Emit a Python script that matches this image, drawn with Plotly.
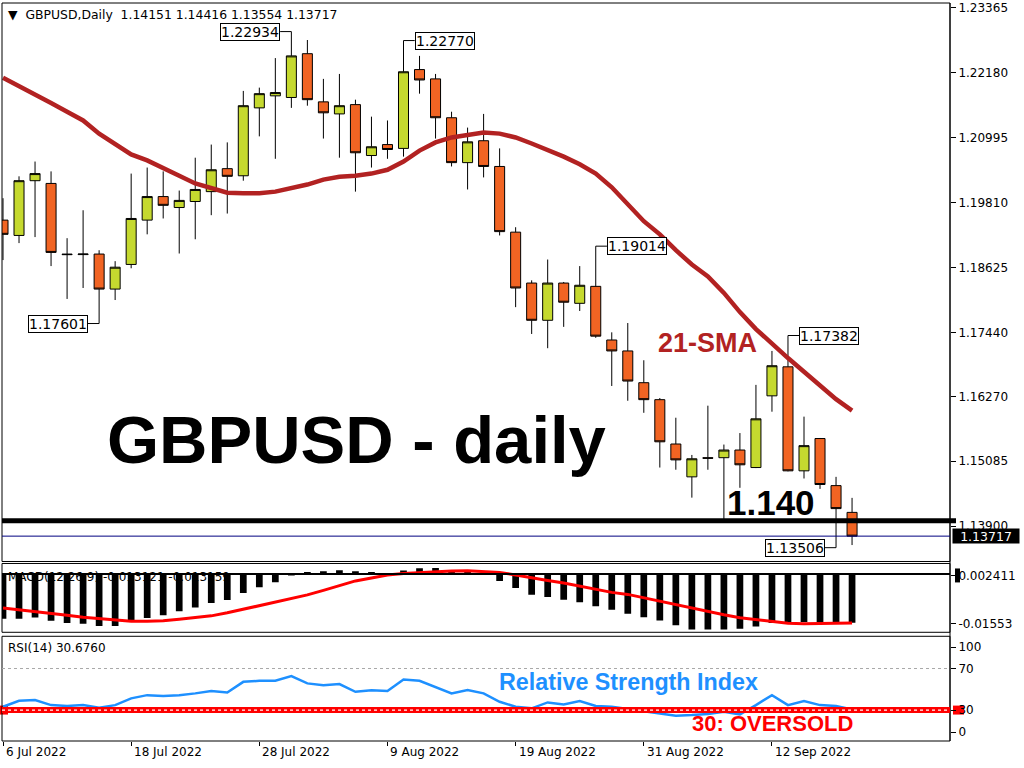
import plotly.graph_objects as go

# ---------------- data ----------------
dates = ["2022-07-06", "2022-07-07", "2022-07-08", "2022-07-11", "2022-07-12", "2022-07-13",
         "2022-07-14", "2022-07-15", "2022-07-18", "2022-07-19", "2022-07-20", "2022-07-21",
         "2022-07-22", "2022-07-25", "2022-07-26", "2022-07-27", "2022-07-28", "2022-07-29",
         "2022-08-01", "2022-08-02", "2022-08-03", "2022-08-04", "2022-08-05", "2022-08-08",
         "2022-08-09", "2022-08-10", "2022-08-11", "2022-08-12", "2022-08-15", "2022-08-16",
         "2022-08-17", "2022-08-18", "2022-08-19", "2022-08-22", "2022-08-23", "2022-08-24",
         "2022-08-25", "2022-08-26", "2022-08-29", "2022-08-30", "2022-08-31", "2022-09-01",
         "2022-09-02", "2022-09-05", "2022-09-06", "2022-09-07", "2022-09-08", "2022-09-09",
         "2022-09-12", "2022-09-13", "2022-09-14", "2022-09-15", "2022-09-16", "2022-09-19"]

opens = [1.1949, 1.1921, 1.2021, 1.2016, 1.1887, 1.1886, 1.1887, 1.1823, 1.1868, 1.1949,
         1.1992, 1.1972, 1.1983, 1.2001, 1.2043, 1.2030, 1.2154, 1.2176, 1.2173, 1.2253,
         1.2165, 1.2143, 1.2160, 1.2067, 1.2087, 1.2080, 1.2224, 1.2207, 1.2136, 1.2054,
         1.2094, 1.2047, 1.1927, 1.1834, 1.1766, 1.1834, 1.1797, 1.1828, 1.1730, 1.1710,
         1.1652, 1.1621, 1.1540, 1.1480, 1.1515, 1.1515, 1.1529, 1.1497, 1.1628, 1.1681,
         1.1491, 1.1550, 1.1464, 1.14151]
highs = [1.1989, 1.2029, 1.2056, 1.2038, 1.1916, 1.1967, 1.1894, 1.1874, 1.2034, 1.2045,
         1.2038, 1.2003, 1.2063, 1.2087, 1.2091, 1.2185, 1.2191, 1.2245, 1.22934, 1.2278,
         1.2207, 1.2216, 1.2169, 1.2138, 1.2131, 1.22770, 1.2249, 1.2216, 1.2147, 1.2118,
         1.2143, 1.2080, 1.1936, 1.1839, 1.1877, 1.1836, 1.1865, 1.19014, 1.1744, 1.1761,
         1.1693, 1.1624, 1.1588, 1.1520, 1.1610, 1.1539, 1.1560, 1.1648, 1.1710, 1.17382,
         1.1590, 1.1551, 1.1480, 1.14416]
lows = [1.1876, 1.1907, 1.1918, 1.1865, 1.1805, 1.1825, 1.17601, 1.1803, 1.1861, 1.1923,
        1.1952, 1.1888, 1.1914, 1.1958, 1.1961, 1.2021, 1.2102, 1.2061, 1.2154, 1.2158,
        1.2098, 1.2063, 1.2001, 1.2045, 1.2061, 1.2065, 1.2180, 1.2098, 1.2047, 1.2005,
        1.2027, 1.1921, 1.1790, 1.1741, 1.1715, 1.1754, 1.1783, 1.1734, 1.1646, 1.1619,
        1.1597, 1.1497, 1.1493, 1.1442, 1.1493, 1.1401, 1.1460, 1.1496, 1.1599, 1.1490,
        1.1477, 1.1458, 1.13506, 1.13554]
closes = [1.1923, 1.2021, 1.2034, 1.1890, 1.1886, 1.1887, 1.1823, 1.1863, 1.1952, 1.1992,
          1.1976, 1.1985, 1.2005, 1.2041, 1.2029, 1.2158, 1.2180, 1.2182, 1.2249, 1.2169,
          1.2145, 1.2158, 1.2072, 1.2083, 1.2078, 1.2220, 1.2205, 1.2136, 1.2054, 1.2092,
          1.2047, 1.1928, 1.1825, 1.1766, 1.1834, 1.1799, 1.1830, 1.1737, 1.1710, 1.1655,
          1.1621, 1.1544, 1.1511, 1.1513, 1.1514, 1.1529, 1.1502, 1.1586, 1.1683, 1.1491,
          1.1537, 1.1466, 1.1422, 1.13717]
sma21 = [1.2209, 1.2194, 1.2180, 1.2163, 1.2147, 1.2131, 1.2107, 1.2087, 1.2069, 1.2058,
         1.2045, 1.2030, 1.2016, 1.2007, 1.1999, 1.1998, 1.1998, 1.2001, 1.2007, 1.2014,
         1.2023, 1.2028, 1.2030, 1.2034, 1.2041, 1.2056, 1.2076, 1.2091, 1.2100, 1.2105,
         1.2109, 1.2107, 1.2100, 1.2089, 1.2078, 1.2065, 1.2051, 1.2034, 1.2009, 1.1978,
         1.1947, 1.1923, 1.1894, 1.1868, 1.1846, 1.1816, 1.1781, 1.1750, 1.1723, 1.1697,
         1.1672, 1.1646, 1.1622, 1.1601]
macd = [-0.0120, -0.0120, -0.0117, -0.0126, -0.0132, -0.0134, -0.0140, -0.0140, -0.0125, -0.0118,
        -0.0111, -0.0100, -0.0090, -0.0078, -0.0070, -0.0051, -0.0036, -0.0022, -0.0002, 0.0005,
        0.0007, 0.0010, 0.0007, 0.0005, 0.0001, 0.0009, 0.0015, 0.0016, 0.0010, 0.0006,
        0.0002, -0.0019, -0.0038, -0.0056, -0.0062, -0.0069, -0.0076, -0.0087, -0.0096, -0.0107,
        -0.0116, -0.0125, -0.0138, -0.0149, -0.0149, -0.0149, -0.0147, -0.0141, -0.0132, -0.0129,
        -0.0129, -0.0129, -0.0129, -0.013121]
signal = [-0.00916, -0.00964, -0.01004, -0.01044, -0.01111, -0.01165, -0.01200, -0.01245, -0.01272, -0.01272,
          -0.01259, -0.01219, -0.01178, -0.01125, -0.01044, -0.00951, -0.00844, -0.00750, -0.00656, -0.00562,
          -0.00442, -0.00308, -0.00187, -0.00107, -0.00027, 0.00013, 0.00040, 0.00067, 0.00080, 0.00086,
          0.00067, 0.00040, -0.00027, -0.00107, -0.00174, -0.00241, -0.00321, -0.00415, -0.00495, -0.00549,
          -0.00643, -0.00736, -0.00830, -0.00911, -0.01004, -0.01098, -0.01178, -0.01232, -0.01285, -0.01326,
          -0.01334, -0.01334, -0.01326, -0.013159]
rsi = [33.2, 39.0, 39.6, 34.8, 33.9, 34.8, 32.2, 34.8, 41.3, 44.4,
       43.5, 44.4, 46.1, 48.3, 47.0, 57.2, 58.2, 58.2, 62.7, 55.7,
       54.0, 55.0, 47.6, 49.2, 48.3, 59.5, 58.2, 52.4, 46.1, 49.2,
       46.1, 38.0, 33.2, 31.7, 37.4, 35.5, 38.7, 33.9, 33.2, 31.0,
       29.1, 26.9, 24.6, 25.2, 26.2, 28.4, 25.9, 34.8, 44.4, 34.8,
       38.7, 34.8, 33.9, 30.676]

price_ticks = [1.23365, 1.22180, 1.20995, 1.19810, 1.18625, 1.17440, 1.16270, 1.15085, 1.13900]
date_tick_idx = [0, 8, 16, 24, 32, 40, 48]
date_tick_text = ["6 Jul 2022", "18 Jul 2022", "28 Jul 2022", "9 Aug 2022",
                  "19 Aug 2022", "31 Aug 2022", "12 Sep 2022"]
macd_labels = ["0.002411", "-0.01553"]
rsi_labels = ["100", "70", "30", "0"]
support_level = 1.140
marked_idx = [18, 6, 25, 37, 49, 52]           # candles with price callouts
marked_kind = ["high", "low", "high", "high", "high", "low"]
marked_side = ["left", "left", "right", "right", "right", "left"]

# ---------------- styling helpers ----------------
W, H = 1024, 768
ML, MR, MT, MB = 2, 74, 1, 27
PW, PH = W - ML - MR, H - MT - MB


def px(x):
    return (x - ML) / PW


def py(y):
    return (H - MB - y) / PH


GREEN = "#C5D92F"
ORANGE = "#F16423"
SMA_C = "#B22222"
RSI_C = "#1E90FF"
AX_FONT = dict(family="DejaVu Sans", size=12, color="black")

xs = list(range(len(dates)))

fig = go.Figure()
fig.add_trace(go.Candlestick(
    x=xs, open=opens, high=highs, low=lows, close=closes,
    increasing=dict(fillcolor=GREEN, line=dict(color="black", width=1)),
    decreasing=dict(fillcolor=ORANGE, line=dict(color="black", width=1)),
    whiskerwidth=0, showlegend=False, hoverinfo="skip", xaxis="x", yaxis="y"))
fig.add_trace(go.Scatter(x=xs, y=sma21, mode="lines", line=dict(color=SMA_C, width=4.5),
                         showlegend=False, hoverinfo="skip", xaxis="x", yaxis="y"))
fig.add_trace(go.Bar(x=xs, y=macd, marker=dict(color="black", line=dict(width=0)), width=0.42,
                     showlegend=False, hoverinfo="skip", xaxis="x", yaxis="y2"))
fig.add_trace(go.Scatter(x=xs, y=signal, mode="lines", line=dict(color="#FF0000", width=3),
                         showlegend=False, hoverinfo="skip", xaxis="x", yaxis="y2"))
fig.add_trace(go.Scatter(x=xs, y=rsi, mode="lines", line=dict(color=RSI_C, width=2.5),
                         showlegend=False, hoverinfo="skip", xaxis="x", yaxis="y3"))

# axis geometry (pixel rows of the three MT4 panels)
price_top, price_bot = 1, 561
macd_top, macd_bot = 563, 632
rsi_top, rsi_bot = 636, 741

# price scale: 1.23365 at y=6, 5489 px per unit
p_hi = 1.23365 + (6 - price_top) / 5489
p_lo = 1.23365 - (price_bot - 6) / 5489
# macd scale: zero at y=573.5, 3734 px per unit
m_hi = (573.5 - macd_top) / 3734
m_lo = (573.5 - macd_bot) / 3734
m_tickvals = [(573.5 - 575) / 3734, (573.5 - 623) / 3734]
# rsi scale: 0 at 741.3, 1.0425 px per unit
r_hi = (741.3 - rsi_top) / 1.0425
r_lo = (741.3 - rsi_bot) / 1.0425
r_tickvals = [(741.3 - 647) / 1.0425, 70, 30, (741.3 - 732) / 1.0425]

x0 = -(3 - ML) / 16.02
x1 = x0 + PW / 16.02

common_y = dict(side="right", showgrid=False, zeroline=False, showline=False,
                ticks="outside", ticklen=5, tickcolor="black", tickfont=AX_FONT,
                ticklabeloverflow="allow", fixedrange=True)

fig.update_layout(
    width=W, height=H,
    margin=dict(l=ML, r=MR, t=MT, b=MB),
    paper_bgcolor="white", plot_bgcolor="rgba(0,0,0,0)",
    showlegend=False, hovermode=False, boxgap=0.375, boxgroupgap=0, bargap=0.5,
    font=AX_FONT,
    xaxis=dict(range=[x0, x1], anchor="y3", showgrid=False, zeroline=False, showline=False,
               showticklabels=False, ticks="outside", ticklen=4, tickcolor="black",
               tickvals=date_tick_idx, rangeslider=dict(visible=False), fixedrange=True),
    yaxis=dict(domain=[py(price_bot), py(price_top)], range=[p_lo, p_hi],
               tickvals=price_ticks, ticktext=[f"{v:.5f}" for v in price_ticks], **common_y),
    yaxis2=dict(domain=[py(macd_bot), py(macd_top)], range=[m_lo, m_hi],
                tickvals=m_tickvals, ticktext=macd_labels, **common_y),
    yaxis3=dict(domain=[py(rsi_bot), py(rsi_top)], range=[r_lo, r_hi],
                tickvals=r_tickvals, ticktext=rsi_labels, **common_y),
)

shapes = []
# panel frames
for top, bot in [(price_top, price_bot), (macd_top, macd_bot), (rsi_top, rsi_bot)]:
    shapes.append(dict(type="rect", xref="paper", yref="paper", x0=0, x1=1, y0=py(bot), y1=py(top),
                       line=dict(color="black", width=1), fillcolor="rgba(0,0,0,0)", layer="above"))
shapes.append(dict(type="line", xref="paper", yref="paper", x0=1, x1=1, y0=0, y1=1,
                   line=dict(color="black", width=1)))
# support 1.140 and current price
shapes.append(dict(type="line", xref="paper", yref="y", x0=0, x1=px(956), y0=support_level, y1=support_level,
                   line=dict(color="black", width=5), layer="above"))
shapes.append(dict(type="line", xref="paper", yref="y", x0=0, x1=1, y0=closes[-1], y1=closes[-1],
                   line=dict(color="#000080", width=1), layer="above"))
# macd zero level
shapes.append(dict(type="line", xref="paper", yref="y2", x0=0, x1=1, y0=0, y1=0,
                   line=dict(color="black", width=2), layer="above"))
shapes.append(dict(type="rect", xref="paper", yref="paper", x0=px(955), x1=px(960), y0=py(582), y1=py(568),
                   line=dict(width=0), fillcolor="black", layer="below"))
# rsi levels
shapes.append(dict(type="line", xref="paper", yref="y3", x0=0, x1=1, y0=70, y1=70,
                   line=dict(color="#A8A8A8", width=1, dash="dot"), layer="above"))
shapes.append(dict(type="line", xref="paper", yref="y3", x0=0, x1=1, y0=30, y1=30,
                   line=dict(color="#FF0000", width=6), layer="above"))
shapes.append(dict(type="line", xref="paper", yref="y3", x0=0, x1=1, y0=30, y1=30,
                   line=dict(color="white", width=1.2, dash="dot"), layer="above"))
for a, b in [(0, 8), (953, 964)]:
    shapes.append(dict(type="rect", xref="paper", yref="paper", x0=px(a), x1=px(b), y0=py(714.5), y1=py(705.5),
                       line=dict(width=0), fillcolor="#FF0000", layer="below"))
# MACD caption, drawn below the bars like in MT4
shapes.append(dict(type="rect", xref="paper", yref="paper", x0=px(5), x1=px(420), y0=py(584), y1=py(568),
                   line=dict(width=0), fillcolor="rgba(0,0,0,0)", layer="below",
                   label=dict(text="MACD(12,26,9) -0.013121 -0.013159", textposition="middle left",
                              font=AX_FONT, padding=0)))

annotations = []
# price callouts
for idx, kind, side in zip(marked_idx, marked_kind, marked_side):
    price = highs[idx] if kind == "high" else lows[idx]
    off = 0.7 if side == "right" else -0.7
    shapes.append(dict(type="line", xref="x", yref="y", x0=idx, x1=idx + off, y0=price, y1=price,
                       line=dict(color="black", width=1), layer="above"))
    annotations.append(dict(xref="x", yref="y", x=idx + off, y=price, text=f"{price:.5f}",
                            xanchor="left" if side == "right" else "right", yanchor="middle",
                            showarrow=False, bgcolor="white", bordercolor="black", borderwidth=1,
                            borderpad=0, font=dict(family="DejaVu Sans", size=14, color="black")))

# current price label on the axis
annotations.append(dict(xref="paper", yref="y", x=1, y=closes[-1], xshift=2, xanchor="left", yanchor="middle",
                        text=f"{closes[-1]:.5f}", showarrow=False, bgcolor="black", borderpad=0,
                        width=66, height=14, align="center",
                        font=dict(family="DejaVu Sans", size=12.5, color="white")))

# date labels (left aligned at their ticks, MT4 style)
for idx, lab in zip(date_tick_idx, date_tick_text):
    annotations.append(dict(xref="x", yref="paper", x=idx, y=py(752), xanchor="left", yanchor="middle",
                            xshift=1, text=lab, showarrow=False, font=AX_FONT))

# headers
annotations.append(dict(xref="paper", yref="paper", x=px(6), y=py(13), xanchor="left", yanchor="middle",
                        text="▼  GBPUSD,Daily  1.14151 1.14416 1.13554 1.13717", showarrow=False,
                        font=dict(family="DejaVu Sans", size=12.4, color="black")))
annotations.append(dict(xref="paper", yref="paper", x=px(6), y=py(648), xanchor="left", yanchor="middle",
                        text="RSI(14) 30.6760", showarrow=False, font=AX_FONT))

# big captions
BOLD = "Liberation Sans"
annotations.append(dict(xref="paper", yref="paper", x=px(356), y=py(439), xanchor="center", yanchor="middle",
                        text="GBPUSD - daily", showarrow=False,
                        font=dict(family=BOLD, size=67, color="black", weight="bold")))
annotations.append(dict(xref="paper", yref="paper", x=px(771), y=py(502), xanchor="center", yanchor="middle",
                        text="1.140", showarrow=False,
                        font=dict(family=BOLD, size=35, color="black", weight="bold")))
annotations.append(dict(xref="paper", yref="paper", x=px(707), y=py(342), xanchor="center", yanchor="middle",
                        text="21-SMA", showarrow=False,
                        font=dict(family=BOLD, size=27, color=SMA_C, weight="bold")))
annotations.append(dict(xref="paper", yref="paper", x=px(628), y=py(682), xanchor="center", yanchor="middle",
                        text="Relative Strength Index", showarrow=False,
                        font=dict(family=BOLD, size=23.3, color=RSI_C, weight="bold")))
annotations.append(dict(xref="paper", yref="paper", x=px(772), y=py(723), xanchor="center", yanchor="middle",
                        text="30: OVERSOLD", showarrow=False,
                        font=dict(family=BOLD, size=22, color="#FF0000", weight="bold")))

fig.update_layout(shapes=shapes, annotations=annotations)
fig.write_html("out.html", config={"displayModeBar": False},
               post_script="document.body.style.margin='0';document.body.style.overflow='hidden';")
